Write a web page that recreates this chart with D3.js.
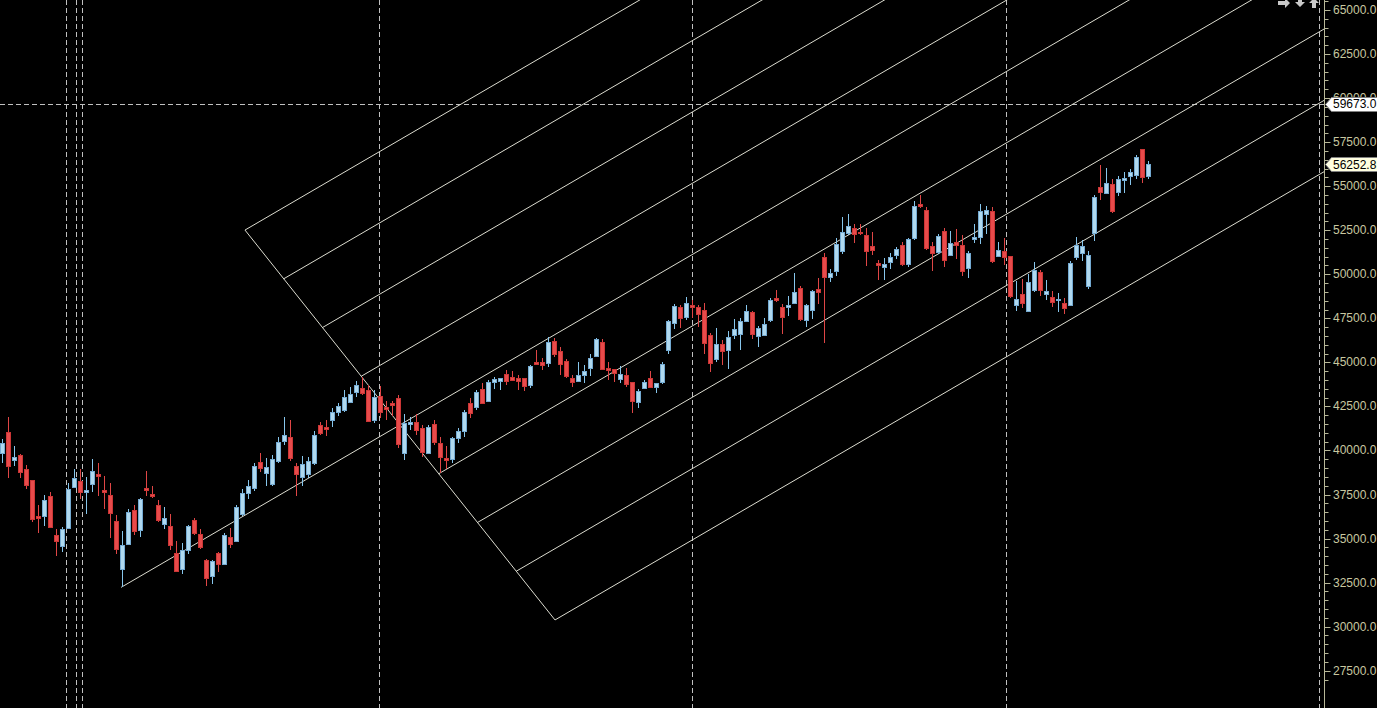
<!DOCTYPE html>
<html>
<head>
<meta charset="utf-8">
<title>Candles with channel</title>
<script src="https://cdn.jsdelivr.net/npm/d3@7"></script>
<style>
    html, body { margin: 0; padding: 0; background: #000; overflow: hidden; }
    svg { display: block; }
    .tick-label { font: 12px "Liberation Sans", Arial, sans-serif; fill: #c8c8a0; }
    .tag-label { font: 12px "Liberation Sans", Arial, sans-serif; fill: #000; }
</style>
</head>
<body>
<div id="chart"></div>
<script>
// candle data, one entry per bar
var opens = [39840,41050,39480,39740,38950,38320,36280,36300,37420,35200,34590,35620,37940,38270,37660,38110,38660,37760,37470,36000,
    33290,34710,36620,35500,37870,37550,36900,35840,35710,34160,33290,34370,36050,35260,33780,32890,34180,33570,35090,34880,
    36390,37600,37870,39350,38720,38100,39400,40540,40760,39120,38490,38660,39290,41450,41330,41730,42180,42300,42750,43320,
    43540,43430,41730,43090,42470,42690,42980,39860,41530,41620,41270,39860,41500,40420,39570,39520,40710,41100,42690,42470,
    43490,42810,43890,43940,44340,44170,44110,44110,43720,45020,45020,44960,46210,45650,45080,44110,43940,44280,44680,45360,
    46160,44680,44620,44060,44280,43890,42750,43540,44110,43600,43890,45700,47230,48140,47580,48260,48140,47970,46550,45190,
    46040,45700,46550,46610,47350,47860,46490,46550,47410,48650,48140,48140,48370,49220,47410,47970,49160,50980,49850,50190,
    51320,52340,52630,52400,52230,51600,50640,50420,50700,51090,51660,50590,52060,53990,53650,51600,51260,52460,51090,51830,
    51660,50360,52000,52120,53420,53590,51040,51320,51040,48260,48880,47910,49110,50130,48880,48710,48540,48370,48260,50980,
    51210,49330,52340,54950,54610,55120,54670,55350,55580,55640,57110,55580];
var highs = [40630,41920,40250,39780,39170,38340,36900,37470,37630,35530,35670,38170,38950,38950,38490,39520,39300,38550,38170,36340,
    35430,36690,36890,37320,38850,37990,37190,36790,36390,34860,34750,35770,36180,35530,33840,33800,34250,35300,35600,36890,
    37810,38320,39290,39860,39570,39740,40760,41900,41730,39290,39680,39630,41100,41620,41730,42410,42690,43430,43600,43940,
    44170,43720,43430,43660,42810,42810,43150,42070,41900,42070,41450,41450,41730,40760,40250,40760,41270,42300,42980,43430,
    43830,44000,44170,44130,44570,44510,44280,44130,44850,45700,45250,46440,46380,45870,45190,44280,45020,44850,45480,46380,
    46320,45020,44640,44790,44680,43910,43490,44000,44510,43850,45020,47410,48310,48260,48710,48540,48260,48370,46670,46950,
    46270,46780,47460,47520,48260,47910,47060,47520,48650,49110,48310,48770,50070,49330,48310,49110,49790,51210,50300,52060,
    53250,53420,52850,52850,52630,52400,50810,50920,51210,51550,51830,52060,54160,54500,53820,51830,52290,52630,52460,52570,
    52230,51320,52850,53990,53880,53820,51830,52060,51060,49620,49730,50020,50700,50240,49670,49050,48940,48650,50750,52120,
    51950,51320,54500,56200,56030,55410,55580,55810,55980,56770,57130,56430];
var lows = [39300,38450,39140,38420,37800,35960,35330,35710,35580,34030,34250,35540,37930,37250,36410,37660,37390,36690,35050,34140,
    32230,34630,35200,35070,37390,37320,35960,35540,34370,33080,33000,34140,35200,34410,32320,32420,33080,33550,34480,34820,
    36300,37240,37700,38780,37980,37980,39290,40310,39400,37420,37980,38440,39170,40880,40820,41330,41960,42180,42690,43030,
    43150,41620,41560,41840,41730,41960,40140,39460,41160,40880,39630,39800,40310,38720,38950,39290,40420,40760,41840,42300,
    42640,42800,43490,43430,43720,43940,43430,43370,43540,44850,44570,44740,45300,44280,44110,43600,43890,43830,44230,45300,
    44570,44000,43890,43830,43600,42130,42410,43530,43540,43260,43770,45480,46900,46950,47410,47520,47010,45480,44450,45020,
    44850,44620,46320,45700,47290,46320,45870,46540,47290,48430,46610,47630,48360,47350,47010,47460,48310,46100,49560,49900,
    51150,52230,51780,52230,50470,51090,49670,49670,50300,50870,50470,50420,51950,53760,51380,50190,51150,50420,51040,50870,
    49900,49790,51780,51720,52290,50640,50980,50530,48650,47910,48090,47860,48990,48770,48540,48140,47860,47740,48200,50810,
    50750,49160,51890,54220,54600,53480,54440,54610,55070,55410,55180,55410];
var closes = [40440,39140,39630,38770,38060,36090,36180,37190,35670,34880,35540,37810,38420,37630,37760,38830,38570,37660,36470,34420,
    34630,36510,35450,37250,37770,37400,36050,36170,34630,33180,34330,35710,35330,34540,32780,33720,33570,35200,34690,36790,
    37590,37980,39120,39000,39060,39520,40480,40880,39570,38660,39230,39400,40880,40990,41220,42180,42520,43030,43200,43720,
    43260,41670,43030,42180,42350,42580,40370,41560,41620,41160,39910,41330,40480,39630,39460,40710,41100,42180,42130,43320,
    42690,43890,44060,44110,43940,44000,43940,43660,44790,44910,44850,46160,45480,44910,44230,43890,44280,44510,45250,46320,
    44620,44570,44400,44340,43770,42810,43370,43890,43600,43830,44910,47350,48200,47520,48370,48140,47740,46100,44960,46040,
    45650,46440,46900,47350,47910,46610,46950,47180,48540,48540,47580,48260,48990,47460,48260,49050,48990,49850,50070,51720,
    52400,52740,52290,52340,51320,51380,50530,50590,50980,51430,50590,52000,53880,53880,51490,51210,52170,50810,51780,51660,
    50190,51210,52120,53590,53650,50750,51380,50980,48770,48600,48370,49560,50240,49110,49050,48430,48600,48090,50640,51660,
    51600,51090,54390,54670,55180,53590,55410,55470,55810,56660,55520,56252.8];

// price axis
var priceMin = 27500, priceMax = 65000;
var majorStep = 2500, minorStep = 500;

// vertical period separators (in bar units)
var separators = [10.77, 12.43, 13.43, 62.93, 115.1, 167.43, 219.5];

// horizontal line and price tags
var hLinePrice = 59673.0;
var tags = [
    { price: 59673.0, text: "59673.0", fill: "#ffffff" },
    { price: 56252.8, text: "56252.8", fill: "#ffffe0" }
];

// channel: base edge from A to B, split into 9 parallel lines, slope in price per bar
var channelA = [40.55, 52510];
var channelB = [92.22, 30380];
var channelLevels = 9;
var channelSlope = 198.5;
var channelPivot = [19.9, 32230];   // middle line runs back to this low

var W = 1377, H = 708;
var axisX = 1324.5;

var x = d3.scaleLinear().domain([-0.28, 220.55]).range([0, 1325]);
var y = d3.scaleLinear().domain([priceMax, priceMin]).range([10, 670.7]);

var svg = d3.select("#chart").append("svg")
    .attr("width", W).attr("height", H)
    .style("background", "#000");

svg.append("defs").append("clipPath").attr("id", "plot")
    .append("rect").attr("x", 0).attr("y", 0).attr("width", axisX).attr("height", H);

var plot = svg.append("g").attr("clip-path", "url(#plot)");

// separators
plot.selectAll(".sep").data(separators).enter().append("line")
    .attr("x1", function (d) { return Math.round(x(d)) + 0.5; })
    .attr("x2", function (d) { return Math.round(x(d)) + 0.5; })
    .attr("y1", 0).attr("y2", H)
    .attr("stroke", "#c0c0c0").attr("stroke-width", 1)
    .attr("stroke-dasharray", "5,3");

// horizontal dashed line
plot.append("line")
    .attr("x1", 0).attr("x2", axisX)
    .attr("y1", Math.round(y(hLinePrice)) + 0.5).attr("y2", Math.round(y(hLinePrice)) + 0.5)
    .attr("stroke", "#c0c0c0").attr("stroke-dasharray", "5,3");

// channel lines
var iEnd = x.invert(axisX);
var chan = [];
chan.push({ i1: channelA[0], p1: channelA[1], i2: channelB[0], p2: channelB[1] });
for (var k = 0; k < channelLevels; k++) {
    var t = k / (channelLevels - 1);
    var si = channelA[0] + t * (channelB[0] - channelA[0]);
    var sp = channelA[1] + t * (channelB[1] - channelA[1]);
    var startI = si, startP = sp;
    if (k === (channelLevels - 1) / 2) { startI = channelPivot[0]; startP = channelPivot[1]; }
    chan.push({ i1: startI, p1: startP, i2: iEnd, p2: sp + channelSlope * (iEnd - si) });
}
plot.selectAll(".chan").data(chan).enter().append("line")
    .attr("x1", function (d) { return x(d.i1); })
    .attr("y1", function (d) { return y(d.p1); })
    .attr("x2", function (d) { return x(d.i2); })
    .attr("y2", function (d) { return y(d.p2); })
    .attr("stroke", "#dcdcd0").attr("stroke-width", 1);

// candles
var bars = d3.range(opens.length).map(function (i) {
    return { i: i, o: opens[i], h: highs[i], l: lows[i], c: closes[i] };
});
var candle = plot.selectAll(".candle").data(bars).enter().append("g");
candle.append("line")
    .attr("x1", function (d) { return Math.round(x(d.i)) + 0.5; })
    .attr("x2", function (d) { return Math.round(x(d.i)) + 0.5; })
    .attr("y1", function (d) { return Math.round(y(d.h)); })
    .attr("y2", function (d) { return Math.round(y(d.l)); })
    .attr("stroke", function (d) { return d.c >= d.o ? "#87c6ec" : "#e04646"; })
    .attr("stroke-width", 1);
candle.append("rect")
    .attr("x", function (d) { return Math.round(x(d.i)) - 2 + 0.5; })
    .attr("width", 4)
    .attr("y", function (d) { return Math.round(y(Math.max(d.o, d.c))) + 0.5; })
    .attr("height", function (d) {
        return Math.max(1, Math.round(y(Math.min(d.o, d.c))) - Math.round(y(Math.max(d.o, d.c))));
    })
    .attr("fill", function (d) { return d.c >= d.o ? "#b0d9ef" : "#e84b4b"; })
    .attr("stroke", function (d) { return d.c >= d.o ? "#74aad2" : "#cc3636"; })
    .attr("stroke-width", 1);

// right price axis
var axis = svg.append("g");
axis.append("line")
    .attr("x1", axisX).attr("x2", axisX).attr("y1", 0).attr("y2", H)
    .attr("stroke", "#b8b898");
var ticks = d3.range(27000, 65501, minorStep);
axis.selectAll(".tk").data(ticks).enter().append("line")
    .attr("x1", axisX)
    .attr("x2", function (d) { return d % majorStep === 0 ? axisX + 6 : axisX + 4; })
    .attr("y1", function (d) { return Math.round(y(d)) + 0.5; })
    .attr("y2", function (d) { return Math.round(y(d)) + 0.5; })
    .attr("stroke", "#b8b898");
axis.selectAll(".tick-label").data(d3.range(27500, 65001, majorStep)).enter().append("text")
    .attr("class", "tick-label")
    .attr("x", 1333)
    .attr("y", function (d) { return y(d) + 4; })
    .text(function (d) { return d3.format(".1f")(d); });

// price tags
var tag = svg.selectAll(".tag").data(tags).enter().append("g");
tag.append("path")
    .attr("d", function (d) {
        var c = Math.round(y(d.price)) + 0.5;
        return "M" + (axisX + 1) + "," + c + " L" + (axisX + 7) + "," + (c - 7) + " L" + (W + 1) + "," + (c - 7) +
            " L" + (W + 1) + "," + (c + 7) + " L" + (axisX + 7) + "," + (c + 7) + " Z";
    })
    .attr("fill", function (d) { return d.fill; })
    .attr("stroke", "#808080");
tag.append("text")
    .attr("class", "tag-label")
    .attr("x", 1333)
    .attr("y", function (d) { return y(d.price) + 4.5; })
    .text(function (d) { return d.text; });

// little navigation arrows in the top right corner
var arrows = svg.append("g").attr("fill", "#c8c8c8");
arrows.append("path").attr("d", "M1278,1 L1285,1 L1285,-2 L1290,3 L1285,8 L1285,5 L1278,5 Z");
arrows.append("path").attr("d", "M1298,-3 L1302,-3 L1302,2 L1305,2 L1300,7 L1295,2 L1298,2 Z");
arrows.append("path").attr("d", "M1312,8 L1316,8 L1316,3 L1319,3 L1314,-2 L1309,3 L1312,3 Z");
</script>
</body>
</html>
